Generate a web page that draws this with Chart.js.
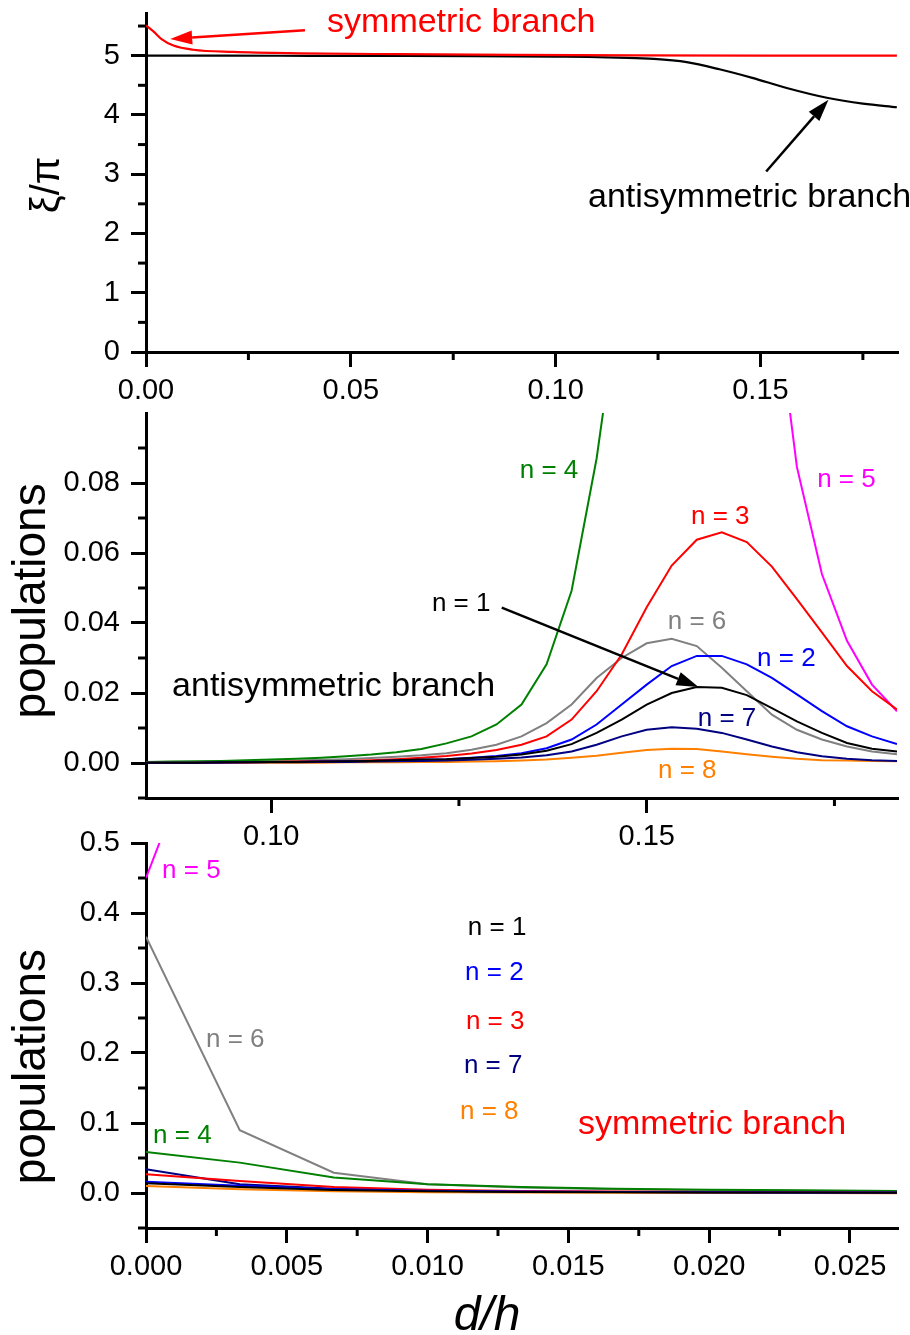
<!DOCTYPE html>
<html>
<head>
<meta charset="utf-8">
<script src="https://cdn.jsdelivr.net/npm/chart.js@4.4.1/dist/chart.umd.min.js"></script>
<style>
  html, body { margin: 0; padding: 0; background: #fff; }
  #wrap { position: relative; width: 910px; height: 1335px; overflow: hidden; }
  #wrap canvas { position: absolute; left: 0; }
</style>
</head>
<body>
<div id="wrap">
  <canvas id="top" width="910" height="412" style="top:0px"></canvas>
  <canvas id="mid" width="910" height="461" style="top:400px"></canvas>
  <canvas id="low" width="910" height="505" style="top:830px"></canvas>
</div>
<script>
// ---- top panel: xi/pi vs d/h ----
const topAntiX = [0, 0.02, 0.04, 0.06, 0.08, 0.09, 0.10, 0.108, 0.115, 0.124, 0.132, 0.14, 0.148, 0.1564, 0.1662, 0.175, 0.1833];
const topAnti  = [5.0, 5.0, 4.998, 4.996, 4.992, 4.988, 4.983, 4.978, 4.966, 4.945, 4.89, 4.77, 4.625, 4.455, 4.29, 4.19, 4.13];
const topSymX  = [0, 0.0018, 0.0038, 0.0067, 0.0115, 0.0213, 0.0376, 0.062, 0.09, 0.12, 0.15, 0.1833];
const topSym   = [5.51, 5.41, 5.28, 5.17, 5.10, 5.063, 5.04, 5.025, 5.012, 5.005, 5.002, 5.0];
const topXTicks = [0, 0.05, 0.10, 0.15];
const topYTicks = [0, 1, 2, 3, 4, 5];

// ---- middle panel: populations, antisymmetric branch ----
const midX = [0.08333, 0.08667, 0.09, 0.09333, 0.09667, 0.1, 0.10333, 0.10667, 0.11, 0.11333,
              0.11667, 0.12, 0.12333, 0.12667, 0.13, 0.13333, 0.13667, 0.14, 0.14333, 0.14667,
              0.15, 0.15333, 0.15667, 0.16, 0.16333, 0.16667, 0.17, 0.17333, 0.17667, 0.18, 0.18333];
const midN1 = [0.0001, 0.0001, 0.0001, 0.0002, 0.0002, 0.0003, 0.0003, 0.0004, 0.0005, 0.0006,
               0.0008, 0.0010, 0.0011, 0.0014, 0.0018, 0.0024, 0.0035, 0.0054, 0.0086, 0.0124,
               0.0167, 0.0200, 0.0217, 0.0215, 0.0194, 0.0157, 0.0119, 0.0086, 0.0057, 0.0041, 0.0033];
const midN2 = [0.0001, 0.0001, 0.0001, 0.0002, 0.0002, 0.0003, 0.0003, 0.0004, 0.0005, 0.0006,
               0.0007, 0.0009, 0.0011, 0.0015, 0.0020, 0.0028, 0.0042, 0.0067, 0.0110, 0.0167,
               0.0224, 0.0277, 0.0306, 0.0306, 0.0282, 0.0243, 0.0196, 0.0148, 0.0105, 0.0076, 0.0054];
const midN3 = [0.0001, 0.0001, 0.0001, 0.0002, 0.0002, 0.0003, 0.0004, 0.0005, 0.0006, 0.0008,
               0.0011, 0.0015, 0.0020, 0.0027, 0.0037, 0.0052, 0.0076, 0.0124, 0.0205, 0.0310,
               0.0445, 0.0564, 0.0638, 0.0659, 0.0631, 0.0561, 0.0468, 0.0373, 0.0277, 0.0205, 0.0153];
const midN4 = [0.0003, 0.0004, 0.0005, 0.0006, 0.0008, 0.0010, 0.0012, 0.0015, 0.0019, 0.0024,
               0.0031, 0.0040, 0.0056, 0.0076, 0.0110, 0.0167, 0.0282, 0.0492, 0.0870, 0.1380,
               null, null, null, null, null, null, null, null, null, null, null];
const midN5 = [null, null, null, null, null, null, null, null, null, null,
               null, null, null, null, null, null, null, null, null, null,
               null, null, null, null, null, 0.141, 0.0846, 0.054, 0.0349, 0.0224, 0.0148];
const midN6 = [0.0002, 0.0002, 0.0003, 0.0004, 0.0005, 0.0006, 0.0007, 0.0009, 0.0011, 0.0014,
               0.0018, 0.0022, 0.0028, 0.0038, 0.0052, 0.0076, 0.0114, 0.0167, 0.0243, 0.0300,
               0.0342, 0.0355, 0.0334, 0.0272, 0.0205, 0.0138, 0.0095, 0.0067, 0.0047, 0.0033, 0.0025];
const midN7 = [0.0001, 0.0001, 0.0001, 0.0001, 0.0002, 0.0002, 0.0002, 0.0003, 0.0003, 0.0004,
               0.0005, 0.0006, 0.0007, 0.0009, 0.0012, 0.0016, 0.0022, 0.0033, 0.0052, 0.0076,
               0.0095, 0.0102, 0.0098, 0.0086, 0.0067, 0.0047, 0.0031, 0.0019, 0.0012, 0.0008, 0.0006];
const midN8 = [0.0000, 0.0000, 0.0000, 0.0001, 0.0001, 0.0001, 0.0001, 0.0001, 0.0002, 0.0002,
               0.0002, 0.0003, 0.0003, 0.0004, 0.0005, 0.0007, 0.0010, 0.0015, 0.0021, 0.0029,
               0.0037, 0.0041, 0.0040, 0.0033, 0.0025, 0.0018, 0.0012, 0.0008, 0.0007, 0.0006, 0.0005];
const midXTicks = [0.10, 0.15];
const midYTicks = [0, 0.02, 0.04, 0.06, 0.08];

// ---- bottom panel: populations, symmetric branch ----
const lowX  = [0, 0.00333, 0.00667, 0.01, 0.01333, 0.01667, 0.02, 0.02333, 0.02667];
const lowN1 = [0.0140, 0.0085, 0.0042, 0.0025, 0.0016, 0.0011, 0.0008, 0.0006, 0.0005];
const lowN2 = [0.0162, 0.0105, 0.0055, 0.0032, 0.0021, 0.0015, 0.0011, 0.0008, 0.0006];
const lowN3 = [0.0267, 0.0172, 0.0085, 0.0047, 0.0030, 0.0021, 0.0015, 0.0011, 0.0008];
const lowN4 = [0.0587, 0.0434, 0.0220, 0.0124, 0.0085, 0.0062, 0.0048, 0.0038, 0.0030];
const lowN5 = [0.45, 0.80, null, null, null, null, null, null, null];
const lowN6 = [0.366, 0.0898, 0.029, 0.0124, 0.0080, 0.0052, 0.0040, 0.0030, 0.0022];
const lowN7 = [0.034, 0.0124, 0.0060, 0.0032, 0.0020, 0.0014, 0.0010, 0.0008, 0.0006];
const lowN8 = [0.0100, 0.0052, 0.0025, 0.0012, 0.0006, 0.0003, 0.0001, 0.0000, -0.0002];
const lowXTicks = [0, 0.005, 0.010, 0.015, 0.020, 0.025];
const lowYTicks = [0, 0.1, 0.2, 0.3, 0.4, 0.5];

const FONT = "'Liberation Sans', Arial, sans-serif";
const C = { n1: '#000000', n2: '#0000ff', n3: '#ff0000', n4: '#008000', n5: '#ff00ff', n6: '#808080', n7: '#000080', n8: '#ff8000' };

// extra drawing: minor ticks, arrows, free labels, axis titles
const notesPlugin = {
  id: 'notes',
  afterDraw(chart, args, opts) {
    const { ctx, chartArea: ca } = chart;
    const sx = chart.scales.x, sy = chart.scales.y;
    ctx.save();
    ctx.strokeStyle = '#000';
    ctx.lineWidth = 3;
    for (const v of opts.minorX || []) {
      const px = sx.getPixelForValue(v);
      ctx.beginPath(); ctx.moveTo(px, ca.bottom); ctx.lineTo(px, ca.bottom + 8); ctx.stroke();
    }
    for (const v of opts.minorY || []) {
      const py = sy.getPixelForValue(v);
      ctx.beginPath(); ctx.moveTo(ca.left, py); ctx.lineTo(ca.left - 8, py); ctx.stroke();
    }
    for (const a of opts.arrows || []) {
      const x1 = sx.getPixelForValue(a.from[0]), y1 = sy.getPixelForValue(a.from[1]);
      const x2 = sx.getPixelForValue(a.to[0]), y2 = sy.getPixelForValue(a.to[1]);
      const ang = Math.atan2(y2 - y1, x2 - x1), head = 22, half = 7;
      const bx = x2 - head * Math.cos(ang), by = y2 - head * Math.sin(ang);
      ctx.strokeStyle = a.color; ctx.fillStyle = a.color; ctx.lineWidth = 2.5;
      ctx.beginPath(); ctx.moveTo(x1, y1); ctx.lineTo(bx, by); ctx.stroke();
      ctx.beginPath(); ctx.moveTo(x2, y2);
      ctx.lineTo(bx + half * Math.sin(ang), by - half * Math.cos(ang));
      ctx.lineTo(bx - half * Math.sin(ang), by + half * Math.cos(ang));
      ctx.closePath(); ctx.fill();
    }
    ctx.textAlign = 'left';
    ctx.textBaseline = 'alphabetic';
    for (const t of opts.labels || []) {
      ctx.font = (t.size || 26) + 'px ' + FONT;
      ctx.fillStyle = t.color;
      ctx.fillText(t.text, sx.getPixelForValue(t.x), sy.getPixelForValue(t.y));
    }
    for (const t of opts.titles || []) {
      ctx.font = t.font;
      ctx.fillStyle = '#000';
      ctx.textAlign = 'center';
      if (t.axis === 'y') {
        ctx.save();
        ctx.translate(ca.left - t.offset, sy.getPixelForValue(t.at));
        ctx.rotate(-Math.PI / 2);
        ctx.textBaseline = 'middle';
        ctx.fillText(t.text, 0, 0);
        ctx.restore();
      } else {
        ctx.textBaseline = 'alphabetic';
        ctx.fillText(t.text, sx.getPixelForValue(t.at), ca.bottom + t.offset);
      }
    }
    ctx.restore();
  }
};

function axis(min, max, major, decimals, isY, fitSize) {
  return {
    type: 'linear', min, max,
    border: { display: true, width: 3, color: '#000' },
    grid: { display: true, drawOnChartArea: false, drawTicks: true, tickLength: 15, tickWidth: 3, tickColor: '#000', lineWidth: 3, color: '#000' },
    ticks: {
      color: '#000', font: { family: FONT, size: 29 }, padding: isY ? 11 : 7,
      autoSkip: false, maxRotation: 0, minRotation: 0,
      callback: v => Number(v).toFixed(decimals)
    },
    afterBuildTicks: s => { s.ticks = major.map(v => ({ value: v })); },
    afterFit: s => {
      if (isY) { s.width = fitSize; s.paddingTop = 0; s.paddingBottom = 0; }
      else { s.height = fitSize; s.paddingLeft = 0; s.paddingRight = 0; }
    }
  };
}

function series(xs, ys, color, smooth) {
  return {
    data: xs.map((x, i) => ({ x, y: ys[i] })),
    borderColor: color, borderWidth: smooth ? 2.2 : 2, pointRadius: 0, fill: false, spanGaps: false,
    tension: smooth ? 0.4 : 0, cubicInterpolationMode: smooth ? 'monotone' : 'default'
  };
}

function makeChart(id, datasets, scales, notes) {
  return new Chart(document.getElementById(id), {
    type: 'line',
    data: { datasets },
    options: {
      responsive: false, animation: false, devicePixelRatio: 1, events: [],
      layout: { padding: { top: 13, right: 13, left: 0, bottom: 0 } },
      scales,
      plugins: { legend: { display: false }, tooltip: { enabled: false }, notes }
    },
    plugins: [notesPlugin]
  });
}

makeChart('top',
  [series(topSymX, topSym, C.n3, true), series(topAntiX, topAnti, C.n1, true)],
  { x: axis(0, 0.18333, topXTicks, 2, false, 60), y: axis(0, 5.72, topYTicks, 0, true, 146) },
  {
    minorX: [0.025, 0.075, 0.125, 0.175],
    minorY: [0.5, 1.5, 2.5, 3.5, 4.5, 5.5],
    arrows: [
      { from: [0.0388, 5.427], to: [0.0059, 5.282], color: C.n3 },
      { from: [0.1514, 3.046], to: [0.1666, 4.257], color: C.n1 }
    ],
    labels: [
      { text: 'symmetric branch', x: 0.0442, y: 5.405, color: C.n3, size: 34 },
      { text: 'antisymmetric branch', x: 0.1079, y: 2.449, color: C.n1, size: 34 }
    ],
    titles: [{ axis: 'y', text: 'ξ/π', font: '40px ' + FONT, at: 2.82, offset: 98 }]
  });

makeChart('mid',
  [series(midX, midN1, C.n1), series(midX, midN2, C.n2), series(midX, midN3, C.n3), series(midX, midN4, C.n4),
   series(midX, midN5, C.n5), series(midX, midN6, C.n6), series(midX, midN7, C.n7), series(midX, midN8, C.n8)],
  { x: axis(0.08333, 0.18333, midXTicks, 2, false, 63), y: axis(-0.01, 0.10, midYTicks, 2, true, 146) },
  {
    minorX: [0.125, 0.175],
    minorY: [-0.01, 0.01, 0.03, 0.05, 0.07, 0.09],
    arrows: [{ from: [0.1307, 0.0444], to: [0.1569, 0.0217], color: C.n1 }],
    labels: [
      { text: 'n = 4', x: 0.1331, y: 0.0813, color: C.n4 },
      { text: 'n = 5', x: 0.1727, y: 0.0788, color: C.n5 },
      { text: 'n = 3', x: 0.1559, y: 0.0684, color: C.n3 },
      { text: 'n = 1', x: 0.1214, y: 0.0435, color: C.n1 },
      { text: 'n = 6', x: 0.1528, y: 0.0383, color: C.n6 },
      { text: 'n = 2', x: 0.1647, y: 0.0277, color: C.n2 },
      { text: 'n = 7', x: 0.1568, y: 0.0105, color: C.n7 },
      { text: 'n = 8', x: 0.1515, y: -0.0044, color: C.n8 },
      { text: 'antisymmetric branch', x: 0.0868, y: 0.0191, color: C.n1, size: 34 }
    ],
    titles: [{ axis: 'y', text: 'populations', font: '46px ' + FONT, at: 0.0463, offset: 114 }]
  });

makeChart('low',
  [series(lowX, lowN1, C.n1), series(lowX, lowN2, C.n2), series(lowX, lowN3, C.n3), series(lowX, lowN4, C.n4),
   series(lowX, lowN5, C.n5), series(lowX, lowN6, C.n6), series(lowX, lowN7, C.n7), series(lowX, lowN8, C.n8)],
  { x: axis(0, 0.02667, lowXTicks, 3, false, 107), y: axis(-0.05, 0.5, lowYTicks, 1, true, 146) },
  {
    minorX: [0.0025, 0.0075, 0.0125, 0.0175, 0.0225],
    minorY: [-0.05, 0.05, 0.15, 0.25, 0.35, 0.45],
    labels: [
      { text: 'n = 5', x: 0.00057, y: 0.450, color: C.n5 },
      { text: 'n = 6', x: 0.00213, y: 0.209, color: C.n6 },
      { text: 'n = 4', x: 0.00025, y: 0.072, color: C.n4 },
      { text: 'n = 1', x: 0.01143, y: 0.368, color: C.n1 },
      { text: 'n = 2', x: 0.01133, y: 0.304, color: C.n2 },
      { text: 'n = 3', x: 0.01136, y: 0.235, color: C.n3 },
      { text: 'n = 7', x: 0.01129, y: 0.171, color: C.n7 },
      { text: 'n = 8', x: 0.01115, y: 0.106, color: C.n8 },
      { text: 'symmetric branch', x: 0.01534, y: 0.084, color: C.n3, size: 34 }
    ],
    titles: [
      { axis: 'y', text: 'populations', font: '46px ' + FONT, at: 0.1805, offset: 114 },
      { axis: 'x', text: 'd/h', font: 'italic 48px ' + FONT, at: 0.01211, offset: 102 }
    ]
  });
</script>
</body>
</html>
